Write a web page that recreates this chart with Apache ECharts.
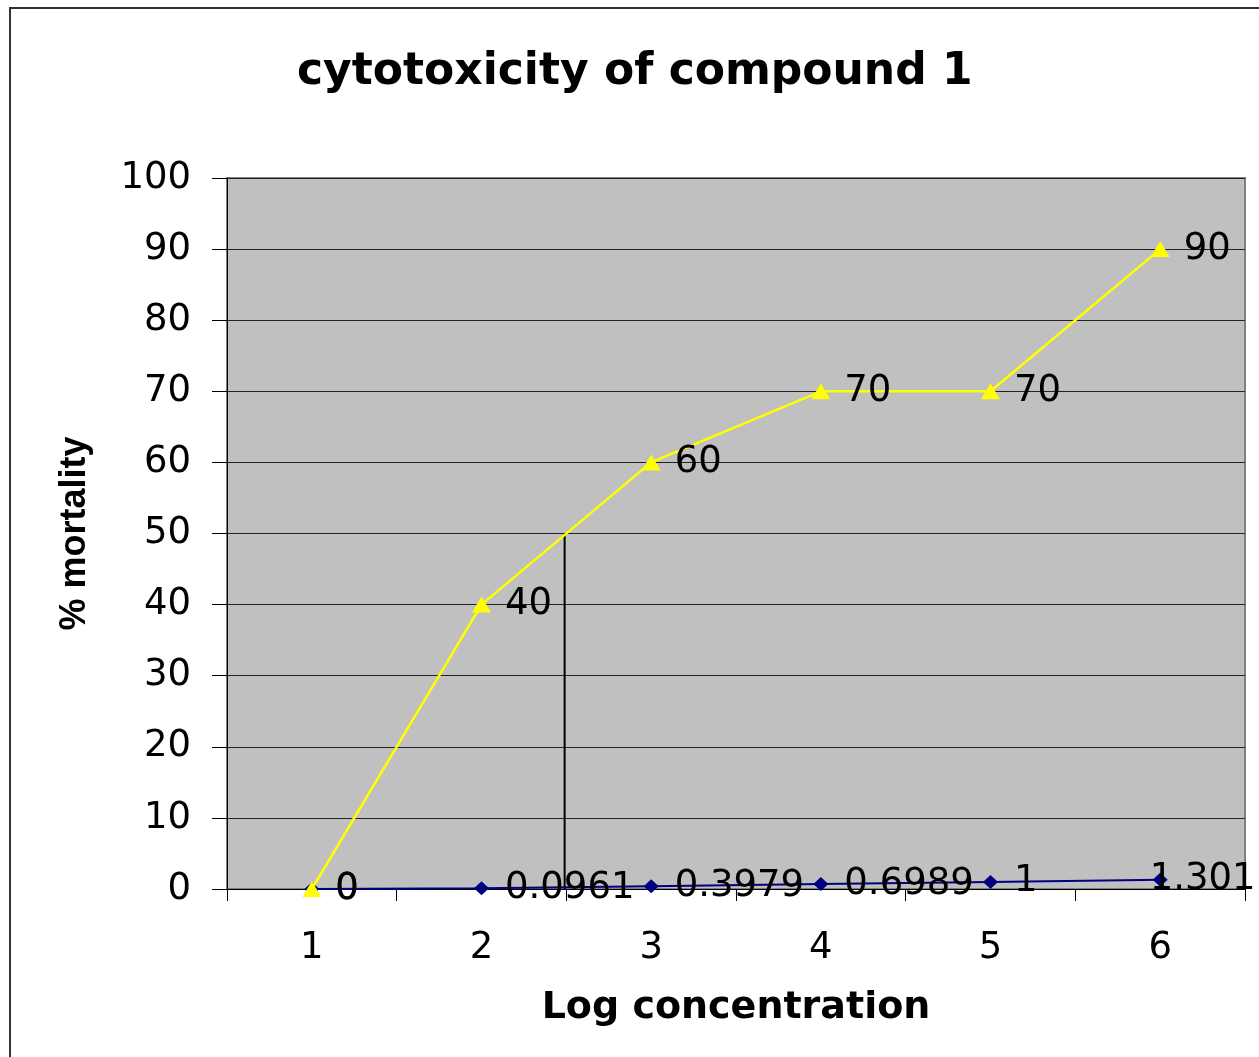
<!DOCTYPE html>
<html>
<head>
<meta charset="utf-8">
<title>cytotoxicity of compound 1</title>
<script src="https://cdn.jsdelivr.net/npm/echarts@6/dist/echarts.min.js"></script>
<style>
  html, body { margin: 0; padding: 0; background: #fff; overflow: hidden; }
  #chart { width: 1259px; height: 1057px; }
</style>
</head>
<body>
<div id="chart"></div>
<script>
// data
var categories = ["1", "2", "3", "4", "5", "6"];
var mortality = [0, 40, 60, 70, 70, 90];          // yellow, % mortality
var logConc = [0, 0.0961, 0.3979, 0.6989, 1, 1.301]; // navy, log concentration
var yMin = 0, yMax = 100, yStep = 10;
// vertical marker dropped from the 50% point
var ic50X = 2.49;
var ic50Y = 50;

var numFont = "DejaVu Sans";

var chart = echarts.init(document.getElementById("chart"));

// the last navy label sits left of its point so it stays inside the frame
var logConcData = logConc.map(function (v, i) {
  if (i === logConc.length - 1) {
    return { value: v, label: { offset: [-34, 0] } };
  }
  return v;
});

var option = {
  animation: false,
  backgroundColor: "#fff",
  title: {
    text: "cytotoxicity of compound 1",
    left: 297,
    top: 51,
    padding: 0,
    textStyle: {
      fontFamily: numFont,
      fontWeight: "bold",
      fontSize: 44,
      color: "#000"
    }
  },
  graphic: [
    {
      type: "rect",
      shape: { x: 10, y: 8, width: 1300, height: 1100 },
      style: { fill: "none", stroke: "#333", lineWidth: 2 },
      silent: true
    }
  ],
  grid: {
    left: 227,
    top: 178,
    right: 14,
    bottom: 168,
    show: true,
    backgroundColor: "#c0c0c0",
    borderColor: "#808080",
    borderWidth: 2
  },
  xAxis: [
    {
      type: "category",
      data: categories,
      boundaryGap: true,
      name: "Log concentration",
      nameLocation: "middle",
      nameGap: 100,
      nameTextStyle: {
        fontFamily: numFont,
        fontWeight: "bold",
        fontSize: 38,
        color: "#000"
      },
      axisLine: { lineStyle: { color: "#000", width: 1 } },
      axisTick: { show: true, length: 12, lineStyle: { color: "#000" } },
      axisLabel: {
        margin: 41,
        fontFamily: numFont,
        fontSize: 37,
        color: "#000"
      },
      splitLine: { show: false }
    },
    {
      // hidden value axis so the marker line can sit between categories
      type: "value",
      min: 0.5,
      max: 6.5,
      show: false
    }
  ],
  yAxis: {
    type: "value",
    min: yMin,
    max: yMax,
    interval: yStep,
    name: "% mortality",
    nameLocation: "middle",
    nameGap: 134,
    nameRotate: 90,
    nameTextStyle: {
      fontFamily: "Liberation Sans",
      fontWeight: "bold",
      fontSize: 36,
      color: "#000"
    },
    axisLine: { show: true, lineStyle: { color: "#000", width: 1 } },
    axisTick: { show: true, length: 15, lineStyle: { color: "#000" } },
    axisLabel: {
      margin: 36,
      padding: [8, 0, 0, 0],
      fontFamily: numFont,
      fontSize: 37,
      color: "#000"
    },
    splitLine: { show: true, lineStyle: { color: "#222", width: 1 } }
  },
  series: [
    {
      name: "log concentration",
      type: "line",
      data: logConcData,
      symbol: "diamond",
      symbolSize: [15, 14],
      lineStyle: { color: "#000080", width: 2 },
      itemStyle: { color: "#000080" },
      label: {
        show: true,
        position: "right",
        distance: 16,
        padding: [6, 0, 0, 0],
        fontFamily: numFont,
        fontSize: 37,
        color: "#000"
      },
      z: 3
    },
    {
      name: "% mortality",
      type: "line",
      data: mortality,
      symbol: "triangle",
      symbolSize: [19, 16],
      lineStyle: { color: "#ffff00", width: 2.5 },
      itemStyle: { color: "#ffff00" },
      label: {
        show: true,
        position: "right",
        distance: 14,
        padding: [6, 0, 0, 0],
        fontFamily: numFont,
        fontSize: 37,
        color: "#000"
      },
      z: 4
    },
    {
      name: "marker",
      type: "line",
      xAxisIndex: 1,
      data: [[ic50X, yMin], [ic50X, ic50Y]],
      symbol: "none",
      lineStyle: { color: "#000", width: 2 },
      z: 2
    }
  ]
};

chart.setOption(option);
</script>
</body>
</html>
